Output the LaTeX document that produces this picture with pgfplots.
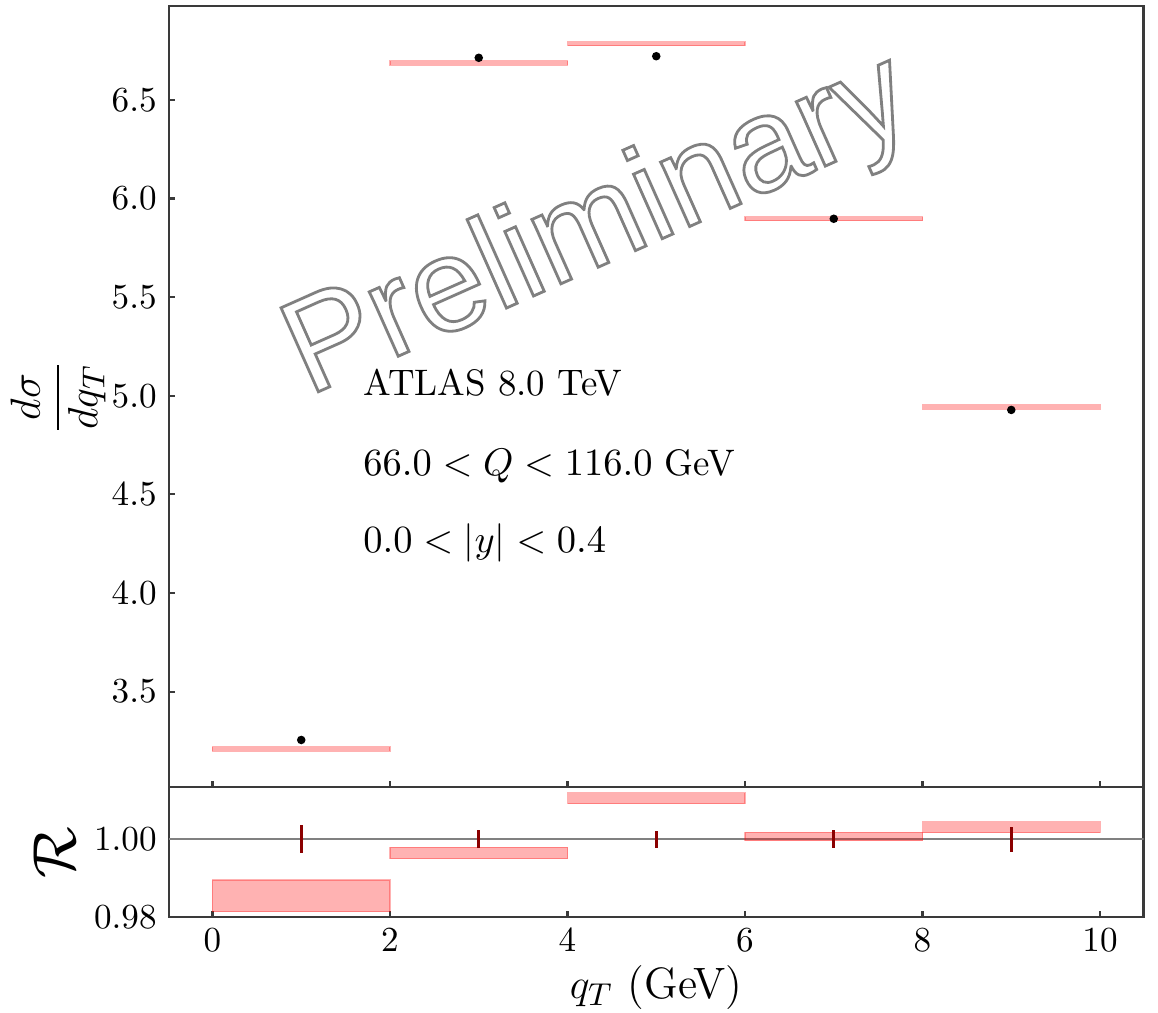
\documentclass[border=0pt]{standalone}
\usepackage{fontspec}
\usepackage{pgfplots}
\pgfplotsset{compat=1.18}
\newfontfamily\prelimfont{Liberation Sans}
\definecolor{darkred}{HTML}{8B0000}
\definecolor{axgray}{HTML}{3A3A3A}
\begin{document}
\begin{tikzpicture}
\useasboundingbox (0,0) rectangle (11.58,-10.12);
\pgfplotsset{
  common/.style={
    scale only axis, width=9.745cm,
    xmin=-0.49, xmax=10.49,
    axis line style={axgray, line width=0.6pt},
    every tick/.style={axgray, line width=0.6pt},
    major tick length=0.06cm,
    tick align=inside,
    xtick pos=bottom, ytick pos=left,
    xtick={0,2,4,6,8,10},
    tick label style={font=\fontsize{10.3}{12}\selectfont},
  },
  band/.style={fill=red, draw=red, fill opacity=0.3, draw opacity=0.3, line width=0.3pt},
}
% ---------------- top panel ----------------
\begin{axis}[common, at={(1.69cm,-7.867cm)}, anchor=south west,
  height=7.81cm, ymin=3.018, ymax=6.977,
  ytick={3.5,4,4.5,5,5.5,6,6.5}, xticklabels={},
  yticklabel style={/pgf/number format/.cd,fixed,fixed zerofill,precision=1},
  clip=false]
\addplot[band] coordinates {(0,3.198) (2,3.198) (2,3.220) (0,3.220)} -- cycle;
\addplot[band] coordinates {(2,6.675) (4,6.675) (4,6.697) (2,6.697)} -- cycle;
\addplot[band] coordinates {(4,6.773) (6,6.773) (6,6.795) (4,6.795)} -- cycle;
\addplot[band] coordinates {(6,5.886) (8,5.886) (8,5.908) (6,5.908)} -- cycle;
\addplot[band] coordinates {(8,4.932) (10,4.932) (10,4.954) (8,4.954)} -- cycle;
\addplot[only marks, mark=*, mark size=1.0pt, black] coordinates {
  (1,3.255) (3,6.713) (5,6.721) (7,5.897) (9,4.928)};
\node[anchor=base west, inner sep=0pt, font=\fontsize{10.5}{12}\selectfont] at (axis cs:1.693,4.999) {ATLAS 8.0 TeV};
\node[anchor=base west, inner sep=0pt, font=\fontsize{10.5}{12}\selectfont] at (axis cs:1.693,4.598) {$66.0 < Q < 116.0$ GeV};
\node[anchor=base west, inner sep=0pt, font=\fontsize{10.5}{12}\selectfont] at (axis cs:1.693,4.203) {$0.0 < |y| < 0.4$};
\node[rotate=24, font=\prelimfont\fontsize{38}{44}\selectfont, text=gray] at (axis cs:4.36,5.846)
  {\special{pdf:literal direct 1 Tr 0.8 w}Preliminary\special{pdf:literal direct 0 Tr}};
\end{axis}
% ---------------- ratio panel ----------------
\begin{axis}[common, at={(1.69cm,-7.867cm)}, anchor=north west,
  height=1.30cm, ymin=0.98, ymax=1.0136,
  ytick={0.98,1.00},
  yticklabel style={/pgf/number format/.cd,fixed,fixed zerofill,precision=2},
  xlabel={$q_T$ (GeV)},
  xlabel style={font=\fontsize{12.5}{14}\selectfont, yshift=3pt}]
\addplot[gray, line width=0.5pt] coordinates {(-0.49,1) (10.49,1)};
\addplot[band] coordinates {(0,0.9813) (2,0.9813) (2,0.9895) (0,0.9895)} -- cycle;
\addplot[band] coordinates {(2,0.9950) (4,0.9950) (4,0.9979) (2,0.9979)} -- cycle;
\addplot[band] coordinates {(4,1.0092) (6,1.0092) (6,1.0121) (4,1.0121)} -- cycle;
\addplot[band] coordinates {(6,0.9997) (8,0.9997) (8,1.0018) (6,1.0018)} -- cycle;
\addplot[band] coordinates {(8,1.0017) (10,1.0017) (10,1.0046) (8,1.0046)} -- cycle;
\addplot[draw=none, no markers, error bars/.cd, y dir=both, y explicit,
  error mark=none, error bar style={darkred, line width=0.75pt}] coordinates {
  (1,1) +- (0,0.0036)
  (3,1) +- (0,0.0023)
  (5,1) +- (0,0.0022)
  (7,1) +- (0,0.0023)
  (9,1) +- (0,0.0033)};
\end{axis}
\node[rotate=90, font=\fontsize{13}{15}\selectfont] at (0.58,-3.97) {$\displaystyle\frac{d\sigma}{dq_T}$};
\node[rotate=90, font=\fontsize{18}{20}\selectfont] at (0.55,-8.53) {$\mathcal{R}$};
\end{tikzpicture}
\end{document}
